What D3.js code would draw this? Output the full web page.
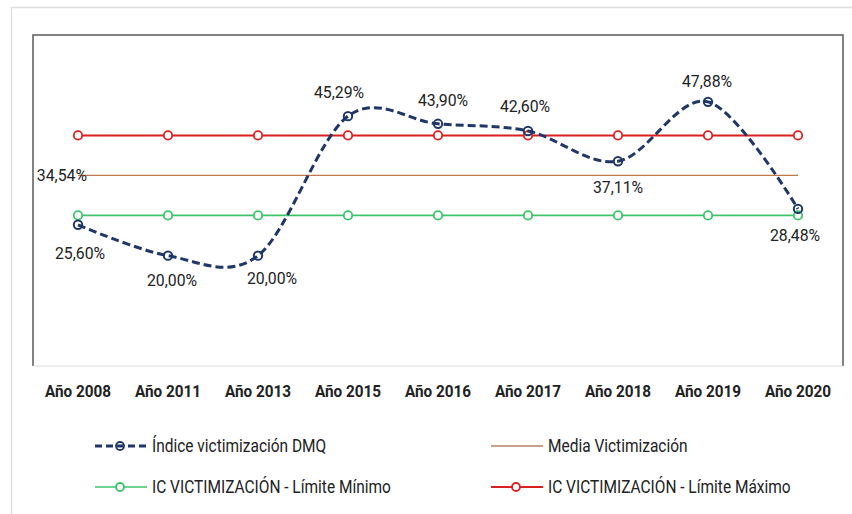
<!DOCTYPE html>
<html>
<head>
<meta charset="utf-8">
<script src="https://cdn.jsdelivr.net/npm/d3@7"></script>
<style>
  html, body { margin: 0; padding: 0; background: #fff; }
  svg { display: block; font-family: Roboto, "Noto Sans", sans-serif; }
</style>
</head>
<body>
<svg id="chart" width="852" height="514"></svg>
<script>
// ---- data ----
const categories = ["Año 2008", "Año 2011", "Año 2013", "Año 2015", "Año 2016", "Año 2017", "Año 2018", "Año 2019", "Año 2020"];
const indice = [25.60, 20.00, 20.00, 45.29, 43.90, 42.60, 37.11, 47.88, 28.48];
const media = [34.54, 34.54, 34.54, 34.54, 34.54, 34.54, 34.54, 34.54, 34.54];
const limiteMin = [27.3, 27.3, 27.3, 27.3, 27.3, 27.3, 27.3, 27.3, 27.3];
const limiteMax = [41.8, 41.8, 41.8, 41.8, 41.8, 41.8, 41.8, 41.8, 41.8];
const seriesNames = ["Índice victimización DMQ", "Media Victimización", "IC VICTIMIZACIÓN - Límite Mínimo", "IC VICTIMIZACIÓN - Límite Máximo"];
const yDomain = [0, 60];

// ---- label placement (style) ----
const labelOffsets = [[2, 28], [4, 24], [14, 22], [-9, -24], [5, -24], [-3, -25], [0, 26], [-1, -21], [-3, 26]];

const fmt = v => v.toFixed(2).replace(".", ",") + "%";

const svg = d3.select("#chart");
const plot = { left: 33, top: 35, right: 843, bottom: 366 };
const textColor = "#222";

// outer light border
svg.append("path")
  .attr("d", "M11.5,514 L11.5,7.5 L852,7.5")
  .attr("fill", "none").attr("stroke", "#dedede").attr("stroke-width", 1.5);

const x = d3.scaleBand().domain(categories).range([plot.left, plot.right]).padding(0);
const cx = c => x(c) + x.bandwidth() / 2;
const y = d3.scaleLinear().domain(yDomain).range([plot.bottom, plot.top]);

// frame
svg.append("path")
  .attr("d", `M${plot.left},${plot.bottom} L${plot.left},${plot.top} L${plot.right},${plot.top} L${plot.right},${plot.bottom}`)
  .attr("fill", "none").attr("stroke", "#5a5a5a").attr("stroke-width", 1.5);
svg.append("line")
  .attr("x1", plot.left).attr("x2", plot.right).attr("y1", plot.bottom).attr("y2", plot.bottom)
  .attr("stroke", "#d9d9d9").attr("stroke-width", 1);

// x axis labels
const xAxis = d3.axisBottom(x).tickSize(0).tickPadding(0);
const gx = svg.append("g").attr("transform", `translate(0,${plot.bottom})`).call(xAxis);
gx.select(".domain").remove();
gx.selectAll("text")
  .attr("y", 0).attr("dy", "0.35em")
  .attr("transform", "translate(0,25.5) scale(0.9,1)")
  .attr("font-family", "Roboto, sans-serif")
  .attr("font-size", 17).attr("font-weight", 700)
  .attr("fill", textColor);

const colors = { indice: "#1f3668", media: "#c07a4a", min: "#3cc46a", max: "#dc1f1f" };

const line = d3.line().x((d, i) => cx(categories[i])).y(d => y(d));

// min line
svg.append("path").datum(limiteMin).attr("d", line)
  .attr("fill", "none").attr("stroke", colors.min).attr("stroke-width", 1.6);
// max line
svg.append("path").datum(limiteMax).attr("d", line)
  .attr("fill", "none").attr("stroke", colors.max).attr("stroke-width", 2);
// media line
svg.append("path").datum(media).attr("d", line)
  .attr("fill", "none").attr("stroke", colors.media).attr("stroke-width", 1.2);

// markers for min & max
function markers(data, color, sw) {
  svg.append("g").selectAll("circle").data(data).join("circle")
    .attr("cx", (d, i) => cx(categories[i])).attr("cy", d => y(d)).attr("r", 4.2)
    .attr("fill", "#fff").attr("stroke", color).attr("stroke-width", sw);
}
markers(limiteMin, colors.min, 1.8);
markers(limiteMax, colors.max, 1.8);

// indice smooth dashed line
const smooth = d3.line().x((d, i) => cx(categories[i])).y(d => y(d)).curve(d3.curveCardinal.tension(0));
svg.append("path").datum(indice).attr("d", smooth)
  .attr("fill", "none").attr("stroke", colors.indice).attr("stroke-width", 3)
  .attr("stroke-dasharray", "8,4");
svg.append("g").selectAll("circle").data(indice).join("circle")
  .attr("cx", (d, i) => cx(categories[i])).attr("cy", d => y(d)).attr("r", 4.2)
  .attr("fill", "none").attr("stroke", colors.indice).attr("stroke-width", 2);

// data labels
svg.append("g").selectAll("text").data(indice).join("text")
  .attr("transform", (d, i) => `translate(${cx(categories[i]) + labelOffsets[i][0]},${y(d) + labelOffsets[i][1]}) scale(0.93,1)`)
  .attr("dy", "0.35em")
  .attr("text-anchor", "middle")
  .attr("font-size", 17).attr("fill", textColor)
  .text(d => fmt(d));

// media label
svg.append("text")
  .attr("transform", `translate(${cx(categories[0]) + 9},${y(media[0])}) scale(0.93,1)`)
  .attr("dy", "0.35em")
  .attr("text-anchor", "end").attr("font-size", 17).attr("fill", textColor)
  .text(fmt(media[0]));

// legend
const legendItems = [
  { name: seriesNames[0], color: colors.indice, dash: "7,4", width: 3, marker: true, fill: "none", col: 0, row: 0 },
  { name: seriesNames[1], color: "#c9a08a", dash: null, width: 2, marker: false, fill: "#fff", col: 1, row: 0 },
  { name: seriesNames[2], color: colors.min, dash: null, width: 1.6, marker: true, fill: "#fff", col: 0, row: 1 },
  { name: seriesNames[3], color: colors.max, dash: null, width: 2, marker: true, fill: "#fff", col: 1, row: 1 }
];
const legendX = [95, 491];
const legendY = [446, 487];
const lg = svg.append("g").selectAll("g").data(legendItems).join("g")
  .attr("transform", d => `translate(${legendX[d.col]},${legendY[d.row]})`);
lg.append("line").attr("x1", 0).attr("x2", 52).attr("y1", 0).attr("y2", 0)
  .attr("stroke", d => d.color).attr("stroke-width", d => d.width)
  .attr("stroke-dasharray", d => d.dash);
lg.filter(d => d.marker).append("circle")
  .attr("cx", 25).attr("cy", 0).attr("r", 4)
  .attr("fill", d => d.fill).attr("stroke", d => d.color).attr("stroke-width", 1.8);
lg.append("text")
  .attr("transform", "translate(57,0) scale(0.86,1)")
  .attr("x", 0).attr("y", 0).attr("dy", "0.35em")
  .attr("font-size", 18).attr("fill", textColor)
  .text(d => d.name);
</script>
</body>
</html>
